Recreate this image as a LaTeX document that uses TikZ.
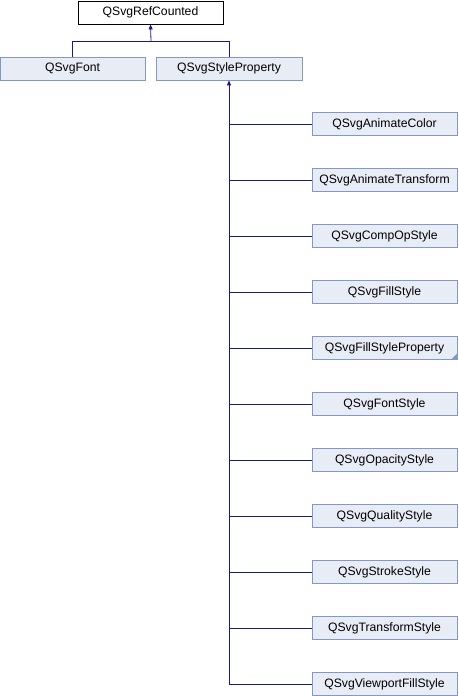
\documentclass[tikz,border=0pt]{standalone}
\usepackage{fontspec}
\setmainfont{Liberation Sans}
\usetikzlibrary{arrows.meta,calc}
\definecolor{boxfill}{RGB}{232,236,245}
\definecolor{boxline}{RGB}{132,152,200}
\definecolor{edgecol}{RGB}{25,25,140}
\tikzset{
  cls/.style={draw=boxline, fill=boxfill, line width=0.8pt, minimum width=145pt, minimum height=23pt, inner sep=0pt, font=\fontsize{12.2}{14}\selectfont},
  rootcls/.style={cls, draw=black, fill=white},
  edge/.style={draw=edgecol, line width=0.8pt},
  arr/.style={edge, -{Triangle[length=5pt,width=4pt]}}
}
\begin{document}
\begin{tikzpicture}[x=1pt,y=1pt]
\useasboundingbox (0,0) rectangle (458,-696);
\node[rootcls] (rc) at (150.5,-12.5) {QSvgRefCounted};
\node[cls] (font) at (72.5,-68.5) {QSvgFont};
\node[cls, minimum width=146pt] (sp) at (229,-68.5) {QSvgStyleProperty};
\coordinate (j) at (151,-41);
\draw[edge] (font.north) |- (j);
\draw[edge] (sp.north) |- (j);
\draw[arr] (j) -- (rc.south);
\foreach \n/\t/\y in {
  a/QSvgAnimateColor/124,
  b/QSvgAnimateTransform/180,
  c/QSvgCompOpStyle/236,
  d/QSvgFillStyle/292,
  e/QSvgFillStyleProperty/348,
  f/QSvgFontStyle/404,
  g/QSvgOpacityStyle/460,
  h/QSvgQualityStyle/516,
  i/QSvgStrokeStyle/572,
  k/QSvgTransformStyle/628,
  l/QSvgViewportFillStyle/684}{
  \node[cls] (\n) at (384.5,-\y) {\t};
  \draw[edge] (\n.west) -- (\n.west -| sp.south);
}
\coordinate (tb) at (l.west -| sp.south);
\draw[arr] (tb) -- (sp.south);
\fill[boxline] ($(e.south east)+(-0.4,0.4)$) -- ++(0,6) -- ++(-6,-6) -- cycle;
\end{tikzpicture}
\end{document}
